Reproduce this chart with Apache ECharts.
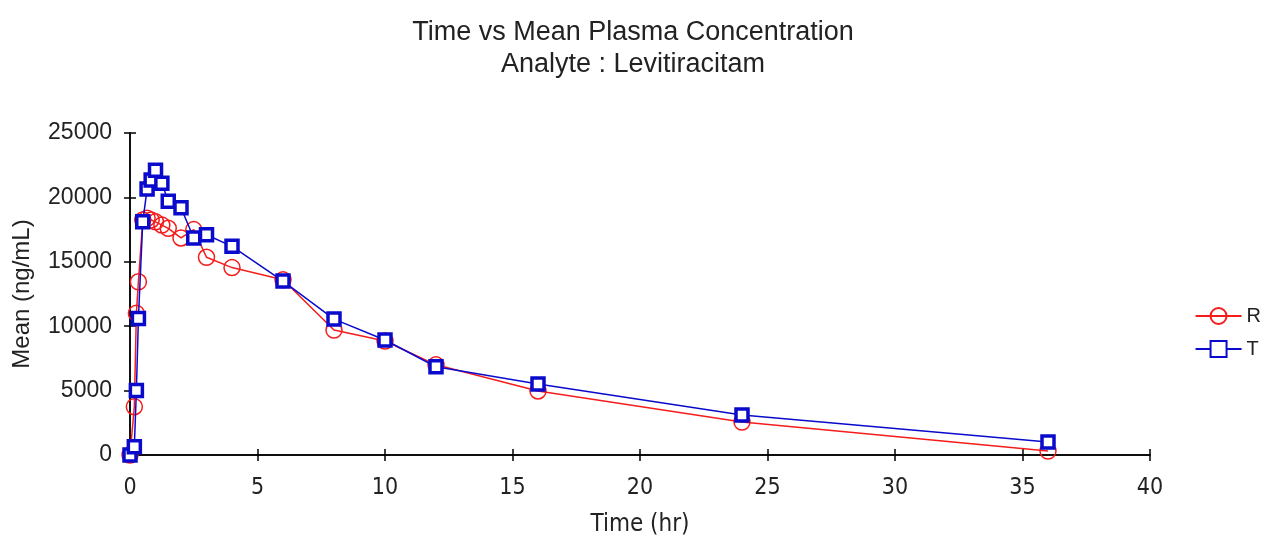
<!DOCTYPE html>
<html><head><meta charset="utf-8">
<script src="https://cdn.jsdelivr.net/npm/echarts@6/dist/echarts.min.js"></script>
<style>html,body{margin:0;padding:0;background:#fff}#c{width:1266px;height:536px}</style>
</head><body><div id="c"></div>
<script>
const timesR = [0, 0.17, 0.25, 0.33, 0.5, 0.67, 0.83, 1, 1.25, 1.5, 2, 2.5, 3, 4, 6, 8, 10, 12, 16, 24, 36];
const meanR  = [0, 3750, 11000, 13450, 18250, 18380, 18250, 18100, 17850, 17600, 16850, 17500, 15350, 14550, 13600, 9700, 8850, 7000, 4970, 2560, 310];
const timesT = [0, 0.17, 0.25, 0.33, 0.5, 0.67, 0.83, 1, 1.25, 1.5, 2, 2.5, 3, 4, 6, 8, 10, 12, 16, 24, 36];
const meanT  = [0, 650, 5000, 10600, 18100, 20650, 21350, 22100, 21100, 19700, 19200, 16850, 17100, 16200, 13500, 10550, 8930, 6850, 5510, 3100, 1000];
const xTicks = [0, 5, 10, 15, 20, 25, 30, 35, 40];
const yTicks = [0, 5000, 10000, 15000, 20000, 25000];

const chart = echarts.init(document.getElementById('c'));
const font = 'Liberation Sans, Arial, sans-serif';
const narrow = 'Liberation Sans Narrow, DejaVu Sans Condensed, Arial Narrow, sans-serif';
const pair = (t, v) => t.map((x, i) => [x, v[i]]);
const RED = '#f51c1c', BLUE = '#0a0acc';
const baseX = {type: 'value', min: xTicks[0], max: xTicks[xTicks.length - 1], interval: 5, splitLine: {show: false},
  axisLine: {lineStyle: {color: '#000', width: 1.5}}};
const baseY = {type: 'value', min: yTicks[0], max: yTicks[yTicks.length - 1], interval: 5000, splitLine: {show: false},
  axisLine: {lineStyle: {color: '#000', width: 1.5}}};
chart.setOption({
  animation: false,
  backgroundColor: '#fff',
  title: {
    text: 'Time vs Mean Plasma Concentration\nAnalyte : Levitiracitam',
    left: 'center', top: 12,
    textStyle: {fontFamily: font, fontSize: 27, fontWeight: 'normal', color: '#222', lineHeight: 32}
  },
  legend: {
    orient: 'vertical', right: 0, top: 301, itemGap: 13, itemWidth: 46, itemHeight: 20,
    textStyle: {fontFamily: font, fontSize: 20, color: '#222'},
    data: ['R', 'T']
  },
  grid: {left: 130, right: 116, top: 133, bottom: 81, containLabel: false, outerBoundsMode: 'none'},
  xAxis: [
    Object.assign({}, baseX, {
      name: 'Time (hr)', nameLocation: 'middle', nameGap: 58,
      nameTextStyle: {fontFamily: narrow, fontSize: 24, color: '#222'},
      axisTick: {length: 6, lineStyle: {color: '#000', width: 1.5}},
      axisLabel: {fontFamily: narrow, fontSize: 23, color: '#222', margin: 22}
    }),
    Object.assign({}, baseX, {position: 'bottom', axisTick: {inside: true, length: 6, lineStyle: {color: '#000', width: 1.5}}, axisLabel: {show: false}})
  ],
  yAxis: [
    Object.assign({}, baseY, {
      name: 'Mean (ng/mL)', nameLocation: 'middle', nameGap: 96, nameRotate: 90,
      nameTextStyle: {fontFamily: font, fontSize: 24, color: '#222'},
      axisTick: {length: 6, lineStyle: {color: '#000', width: 1.5}},
      axisLabel: {fontFamily: font, fontSize: 23, color: '#222', margin: 18, formatter: v => String(v)}
    }),
    Object.assign({}, baseY, {position: 'left', axisTick: {inside: true, length: 6, lineStyle: {color: '#000', width: 1.5}}, axisLabel: {show: false}})
  ],
  series: [
    {
      name: 'R', type: 'line', data: pair(timesR, meanR),
      symbol: 'circle', symbolSize: 16, showAllSymbol: true,
      itemStyle: {color: 'rgba(255,255,255,0)', borderColor: RED, borderWidth: 1.5},
      lineStyle: {color: RED, width: 1.5},
      color: RED, z: 2
    },
    {
      name: 'T', type: 'line', data: pair(timesT, meanT),
      symbol: 'rect', symbolSize: 12, showAllSymbol: true,
      itemStyle: {color: '#fff', borderColor: BLUE, borderWidth: 3.5},
      lineStyle: {color: BLUE, width: 1.5},
      color: BLUE, z: 3
    }
  ]
});
</script></body></html>
